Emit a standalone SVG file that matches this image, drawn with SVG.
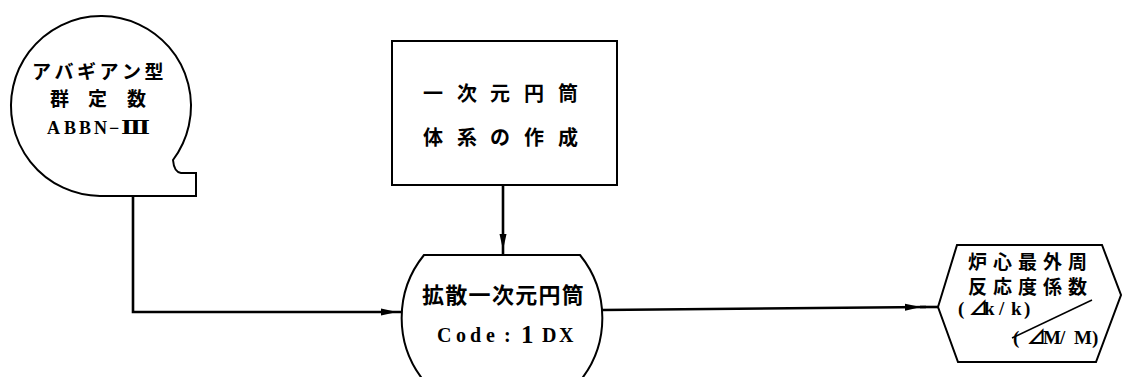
<svg xmlns="http://www.w3.org/2000/svg" width="1122" height="377" viewBox="0 0 1122 377">
<defs>
<style>
.node{fill:#fff;stroke:#000;stroke-width:2}
.conn{fill:none;stroke:#000;stroke-width:2.6}
.jp{font-family:"Noto Sans CJK JP","Noto Sans",sans-serif;font-weight:bold;fill:#000}
.lat{font-family:"Liberation Serif","Noto Sans CJK JP",serif;font-weight:bold;fill:#000}
</style>
<marker id="arr" markerUnits="userSpaceOnUse" markerWidth="24" markerHeight="10" refX="21" refY="4" orient="auto">
<path d="M0,0.5 L16,4 L0,7.5 z" fill="#000"/>
</marker>
</defs>
<rect width="1122" height="377" fill="#fff"/>
<g id="connectors">
<path class="conn" d="M133,196 L133,312 L402,312" marker-end="url(#arr)"/>
<path class="conn" d="M503,185 L503,255" marker-end="url(#arr)"/>
<path class="conn" d="M602,310 L926,307" marker-end="url(#arr)"/>
<path class="conn" d="M920,307 L938,307"/>
</g>
<g id="node-abbn">
<path class="node" d="M173,160 A90,90 0 1 0 100,196 L196,196 L196,173 L181,173 Q174,172 173,160 Z"/>
<text class="jp" font-size="19" y="79" x="32 54.5 77 99.5 122 144.5">アバギアン型</text>
<text class="jp" font-size="19" y="106" x="50 88 127">群定数</text>
<text class="lat" font-size="18" y="134" x="47 64 79 94 109">ABBN−</text>
<text font-family="'DejaVu Serif','DejaVu Sans',serif" font-weight="bold" font-size="18" y="134" x="121" textLength="29" lengthAdjust="spacingAndGlyphs">Ⅲ</text>
</g>
<g id="node-cylinder-model">
<rect class="node" x="392" y="41" width="225" height="144"/>
<text class="jp" font-size="20" y="101" x="423 457 490 524 558">一次元円筒</text>
<text class="jp" font-size="20" y="145" x="423 457 490 524 558">体系の作成</text>
</g>
<g id="node-1dx">
<path class="node" d="M424,255 L580,255 A100,100 0 0 1 580,381 L424,381 A100,100 0 0 1 424,255 Z"/>
<text class="jp" font-size="22" y="303" x="422 445.3 468.6 491.9 515.2 538.5 561.8">拡散一次元円筒</text>
<text class="lat" font-size="20" y="342" x="437 456 470 486 504">Code:</text>
<text class="lat" font-size="25" y="343" x="521">1</text>
<text class="lat" font-size="20" y="342" x="542 559">DX</text>
</g>
<g id="node-result">
<polygon class="node" points="938,307 957,245 1102,245 1121,295 1096,362 958,362"/>
<text class="jp" font-size="19" y="269" x="968 993 1018 1043 1068">炉心最外周</text>
<text class="jp" font-size="19" y="294" x="968 993 1018 1043 1068">反応度係数</text>
<text class="lat" font-size="19" y="315" x="958 969 984 999 1011 1024">(⊿k/k)</text>
<line x1="1012" y1="338" x2="1092" y2="300" stroke="#000" stroke-width="1.5"/>
<text class="lat" font-size="19" y="344" x="1013 1027 1043 1060 1074 1092">(⊿M/M)</text>
</g>
</svg>
